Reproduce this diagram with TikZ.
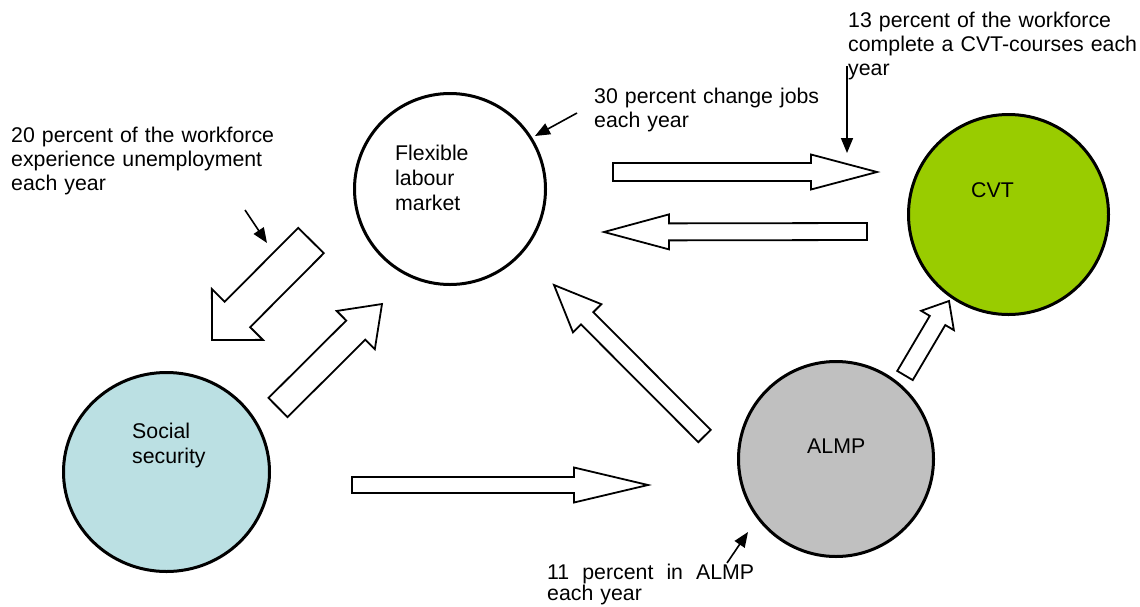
\documentclass[tikz,border=0pt]{standalone}
\usepackage{fontspec}
\setmainfont{Liberation Sans}
\usetikzlibrary{calc,arrows.meta,shapes.geometric}
\definecolor{cvtgreen}{HTML}{99CC00}
\definecolor{socblue}{HTML}{BBE0E3}
\definecolor{almpgray}{HTML}{C0C0C0}
% block arrow: #1 tail centre, #2 tip, #3 half shaft width, #4 half head width, #5 head length
\newcommand{\blockarrow}[5]{%
  \coordinate (ba-h) at ($(#2)!#5!(#1)$);
  \draw[blockarr] ($(#1)!#3!90:(#2)$) -- ($(ba-h)!#3!90:(#2)$) -- ($(ba-h)!#4!90:(#2)$) -- (#2)
    -- ($(ba-h)!#4!-90:(#2)$) -- ($(ba-h)!#3!-90:(#2)$) -- ($(#1)!#3!-90:(#2)$) -- cycle;
}
\tikzset{
  bubble/.style={circle, draw=black, line width=3pt, inner sep=0pt},
  blockarr/.style={draw=black, fill=white, line width=1.8pt, line join=miter},
  pointer/.style={-{Triangle[length=15pt,width=12pt]}, line width=1.6pt},
  txt/.style={anchor=base west, inner sep=0pt, text width=320pt, align=left, font=\fontsize{21.3}{24}\selectfont},
  lbl/.style={anchor=base west, inner sep=0pt, text width=150pt, align=left, font=\fontsize{21.3}{25}\selectfont},
}
\begin{document}
\begin{tikzpicture}[x=1pt, y=-1pt]
\useasboundingbox (0,0) rectangle (1140,606);
% circles
\node[bubble, minimum size=191pt] (flex) at (450,189) {};
\node[bubble, minimum size=200pt, fill=cvtgreen] (cvt) at (1008.5,214.5) {};
\node[ellipse, draw=black, line width=3pt, inner sep=0pt, minimum width=206pt, minimum height=199pt, fill=socblue] (soc) at (166.5,472) {};
\node[bubble, minimum size=195pt, fill=almpgray] (almp) at (836,459) {};
% labels
\node[lbl] (flexlbl) at (395,160) {Flexible\\labour\\market};
\node[lbl] (cvtlbl) at (971,197) {CVT};
\node[lbl] (soclbl) at (132,438) {Social\\security};
\node[lbl] (almplbl) at (807,453) {ALMP};
% annotations
\node[txt] (n20) at (11,142) {20 percent of the workforce\\experience unemployment\\each year};
\node[txt] (n30) at (594,103) {30 percent change jobs\\each year};
\node[txt] (n13) at (848,27) {13 percent of the workforce\\complete a CVT-courses each\\year};
\node[txt, font=\fontsize{21.3}{21.5}\selectfont] (n11) at (547,579) {\hbox to 207pt{11\hfill percent\hfill in\hfill ALMP}\\each year};
% pointer arrows
\coordinate (p20s) at (245,210); \coordinate (p20e) at (267,243);
\coordinate (p30s) at (577,113); \coordinate (p30e) at (535,136);
\coordinate (p13s) at (847,66);  \coordinate (p13e) at (847,153);
\coordinate (p11s) at (727,563); \coordinate (p11e) at (748,532);
\draw[pointer] (p20s) -- (p20e);
\draw[pointer] (p30s) -- (p30e);
\draw[pointer] (p13s) -- (p13e);
\draw[pointer] (p11s) -- (p11e);
% block arrows
\coordinate (fcT) at (613,172);   \coordinate (fcH) at (877,172);
\coordinate (cfT) at (867,231.5); \coordinate (cfH) at (604,232);
\coordinate (saT) at (352,485);   \coordinate (saH) at (648,485);
\coordinate (fsT) at (311,240.5); \coordinate (fsH) at (212,340);
\coordinate (sfT) at (278,407.5); \coordinate (sfH) at (382,304);
\coordinate (afT) at (704.5,436); \coordinate (afH) at (554,285);
\coordinate (acT) at (905,375.5); \coordinate (acH) at (949,301);
\blockarrow{fcT}{fcH}{9pt}{17.5pt}{66pt}
\blockarrow{cfT}{cfH}{8.5pt}{17.5pt}{65pt}
\blockarrow{saT}{saH}{8pt}{17.5pt}{74pt}
\blockarrow{fsT}{fsH}{18pt}{36pt}{36pt}
\blockarrow{sfT}{sfH}{13.5pt}{27pt}{37pt}
\blockarrow{afT}{afH}{8.7pt}{20pt}{47pt}
\blockarrow{acT}{acH}{9pt}{19pt}{22.6pt}
\end{tikzpicture}
\end{document}
